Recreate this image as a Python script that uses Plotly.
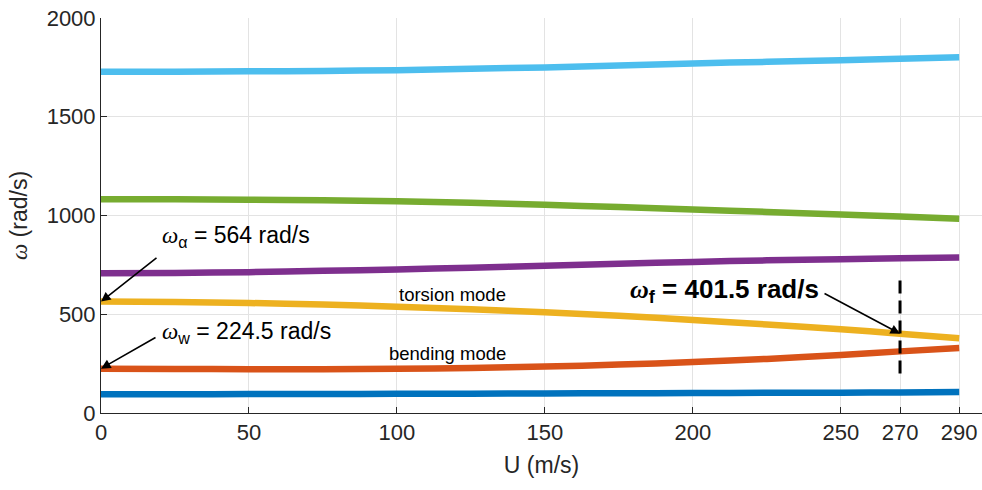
import plotly.graph_objects as go

# ---- data ----
U = [0, 25, 50, 75, 100, 125, 150, 175, 200, 225, 250, 270, 290]
mode1 = [95, 95, 96, 96, 97, 98, 99, 100, 101, 102, 103, 104, 106]
bending = [224.5, 223, 222, 222, 224, 228, 235, 245, 258, 274, 294, 312, 329]
torsion = [564, 562, 557, 549, 538, 525, 510, 492, 471, 448, 424, 401.5, 379]
mode4 = [707, 709, 713, 720, 727, 736, 746, 756, 765, 773, 779, 784, 787]
mode5 = [1082, 1082, 1080, 1077, 1072, 1064, 1054, 1043, 1031, 1018, 1005, 995, 984]
mode6 = [1728, 1728, 1730, 1732, 1736, 1743, 1750, 1760, 1770, 1778, 1786, 1794, 1801]

series = [mode1, bending, torsion, mode4, mode5, mode6]
colors = ["#0072BD", "#D95319", "#EDB120", "#7E2F8E", "#77AC30", "#4DBEEE"]

x_ticks = [0, 50, 100, 150, 200, 250, 270, 290]
y_ticks = [0, 500, 1000, 1500, 2000]

U_flutter = 270
w_flutter = 401.5
dash_y = [200, 680]

FONT = "Liberation Sans, Arial, sans-serif"
OM = '<span style="font-family:Liberation Serif;font-style:italic">ω</span>'

fig = go.Figure()
for s, c in zip(series, colors):
    fig.add_trace(go.Scatter(
        x=U, y=s, mode="lines",
        line=dict(color=c, width=6.5, shape="spline", smoothing=0.8),
        showlegend=False, hoverinfo="skip"))

fig.add_trace(go.Scatter(
    x=[U_flutter, U_flutter], y=dash_y, mode="lines",
    line=dict(color="black", width=3, dash="13px,7px"),
    showlegend=False, hoverinfo="skip"))

annots = []
# arrow-only annotations
for (xh, yh, ax, ay) in [(0, torsion[0], 57, -45), (0, bending[0], 56, -32),
                         (U_flutter, w_flutter, -77, -41)]:
    annots.append(dict(x=xh, y=yh, xref="x", yref="y", text="", showarrow=True,
                       ax=ax, ay=ay, arrowhead=2, arrowsize=1.2, arrowwidth=1.6,
                       arrowcolor="black", standoff=0, startstandoff=0))

texts = [
    (OM + "<sub>α</sub> = 564 rad/s", 160, 237, 23, "left"),
    (OM + "<sub>w</sub> = 224.5 rad/s", 160, 332, 23, "left"),
    ("torsion mode", 452, 294, 18.5, "center"),
    ("bending mode", 447, 353, 18.5, "center"),
    ("<b>" + OM + "<sub>f</sub> = 401.5 rad/s</b>", 628, 290, 26, "left"),
]
for t, px, py, fs, xa in texts:
    annots.append(dict(
        x=(px - 101) / (982 - 101), y=1 - (py - 18) / 395,
        xref="paper", yref="paper", text=t, showarrow=False,
        xanchor=xa, yanchor="middle",
        font=dict(family=FONT, size=fs, color="black")))

fig.update_layout(
    width=982, height=490,
    margin=dict(l=101, r=0, t=18, b=77),
    plot_bgcolor="white", paper_bgcolor="white",
    font=dict(family=FONT, size=22, color="#262626"),
    annotations=annots,
    xaxis=dict(range=[0, 297.7], tickvals=x_ticks, ticktext=[str(v) for v in x_ticks],
               showgrid=True, gridcolor="#e3e3e3", gridwidth=1,
               showline=True, linecolor="#262626", linewidth=1,
               ticks="inside", ticklen=6, tickcolor="#262626",
               zeroline=False,
               title=dict(text="U (m/s)", font=dict(size=23), standoff=12)),
    yaxis=dict(range=[0, 2000], tickvals=y_ticks,
               showgrid=True, gridcolor="#e3e3e3", gridwidth=1,
               showline=True, linecolor="#262626", linewidth=1,
               ticks="inside", ticklen=6, tickcolor="#262626",
               zeroline=False,
               title=dict(text=OM + " (rad/s)", font=dict(size=23), standoff=12)),
)

fig.write_html("out.html")
